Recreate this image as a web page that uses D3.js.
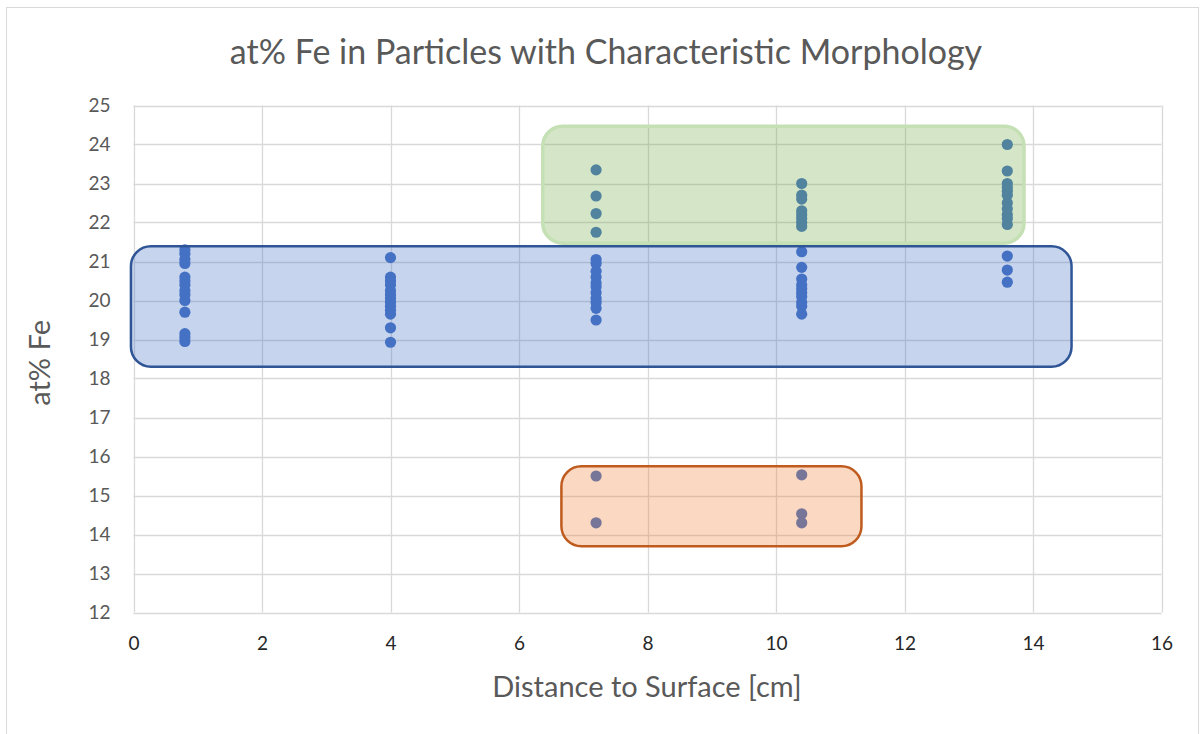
<!DOCTYPE html>
<html>
<head>
<meta charset="utf-8">
<script src="https://cdn.jsdelivr.net/npm/d3@7"></script>
<style>
  html, body { margin: 0; padding: 0; background: #fff; }
  svg { display: block; }
  text { font-family: Lato, "Open Sans", sans-serif; }
</style>
</head>
<body>
<svg id="chart" width="1203" height="734"></svg>
<script>
// Distance to surface (cm) for each sampled layer
const depths = [0.8, 4, 7.2, 10.4, 13.6];

// at% Fe measured in particles at each depth
const fe_0_8 = [21.3, 21.2, 21.05, 20.95, 20.6, 20.5, 20.4, 20.25, 20.15, 20.0, 19.7, 19.15, 19.05, 18.95];
const fe_4_0 = [21.1, 20.6, 20.5, 20.4, 20.25, 20.15, 20.05, 19.95, 19.85, 19.75, 19.65, 19.3, 18.93];
const fe_7_2 = [23.35, 22.68, 22.23, 21.75, 21.05, 20.95, 20.75, 20.6, 20.45, 20.35, 20.2, 20.05, 19.95, 19.8, 19.5, 15.5, 14.3];
const fe_10_4 = [23.0, 22.7, 22.6, 22.3, 22.2, 22.1, 22.0, 21.9, 21.25, 20.85, 20.55, 20.4, 20.3, 20.2, 20.1, 19.95, 19.85, 19.65, 15.53, 14.53, 14.3];
const fe_13_6 = [24.0, 23.32, 23.0, 22.9, 22.8, 22.7, 22.5, 22.35, 22.2, 22.1, 21.95, 21.14, 20.78, 20.47];

const feByDepth = [fe_0_8, fe_4_0, fe_7_2, fe_10_4, fe_13_6];

// Axis ticks
const xTicks = [0, 2, 4, 6, 8, 10, 12, 14, 16];
const yTicks = [12, 13, 14, 15, 16, 17, 18, 19, 20, 21, 22, 23, 24, 25];

// Morphology groups outlined on the chart, in data units
const groupNames = ["high", "main", "low"];
const groupX0 = [6.37, -0.04, 6.66];
const groupX1 = [13.86, 14.6, 11.33];
const groupY0 = [21.47, 18.3, 13.7];
const groupY1 = [24.47, 21.39, 15.75];

const svg = d3.select("#chart");
const plot = { left: 133.5, right: 1161.5, top: 105.5, bottom: 612.5 };

const x = d3.scaleLinear().domain([0, 16]).range([plot.left, plot.right]);
const y = d3.scaleLinear().domain([12, 25]).range([plot.bottom, plot.top]);

// chart frame
svg.append("rect")
  .attr("x", 6.5).attr("y", 7.5)
  .attr("width", 1192).attr("height", 740)
  .attr("fill", "#fff").attr("stroke", "#D9D9D9").attr("stroke-width", 1);

// title
svg.append("text")
  .attr("x", 606).attr("y", 64)
  .attr("text-anchor", "middle")
  .attr("font-size", 34)
  .attr("fill", "#595959")
  .text("at% Fe in Particles with Characteristic Morphology");

// gridlines
const grid = svg.append("g");
grid.selectAll("line.v").data(xTicks).join("line")
  .attr("class", "v")
  .attr("x1", d => Math.round(x(d)) + 0.5).attr("x2", d => Math.round(x(d)) + 0.5)
  .attr("y1", plot.top).attr("y2", plot.bottom)
  .attr("stroke", "#D9D9D9").attr("stroke-width", 1.3);
grid.selectAll("line.h").data(yTicks).join("line")
  .attr("class", "h")
  .attr("x1", plot.left).attr("x2", plot.right)
  .attr("y1", d => Math.round(y(d)) + 0.5).attr("y2", d => Math.round(y(d)) + 0.5)
  .attr("stroke", "#D9D9D9").attr("stroke-width", 1.3);

// axes (labels only, lines come from the grid)
const xAxis = svg.append("g")
  .attr("transform", `translate(0,${plot.bottom})`)
  .call(d3.axisBottom(x).tickValues(xTicks).tickSize(0).tickPadding(24).tickFormat(d3.format("d")));
xAxis.select(".domain").remove();
xAxis.selectAll("text").attr("font-size", 19).attr("fill", "#262626")
  .attr("font-family", "Lato, 'Open Sans', sans-serif");

const yAxis = svg.append("g")
  .attr("transform", `translate(${plot.left},0)`)
  .call(d3.axisLeft(y).tickValues(yTicks).tickSize(0).tickPadding(23).tickFormat(d3.format("d")));
yAxis.select(".domain").remove();
yAxis.selectAll("text").attr("font-size", 19).attr("fill", "#595959")
  .attr("font-family", "Lato, 'Open Sans', sans-serif");

// axis titles
svg.append("text")
  .attr("x", 647).attr("y", 697)
  .attr("text-anchor", "middle")
  .attr("font-size", 29).attr("fill", "#595959")
  .text("Distance to Surface [cm]");

svg.append("text")
  .attr("transform", `translate(50,${y(18.4)}) rotate(-90)`)
  .attr("text-anchor", "middle")
  .attr("font-size", 29).attr("fill", "#595959")
  .text("at% Fe");

// data points
const points = [];
depths.forEach((d, i) => feByDepth[i].forEach(v => points.push({ x: d, y: v })));

svg.append("g").selectAll("circle").data(points).join("circle")
  .attr("cx", d => x(d.x)).attr("cy", d => y(d.y))
  .attr("r", 5.6)
  .attr("fill", "#4472C4");

// translucent group outlines drawn over the points
const groupStyle = {
  high: { fill: "#70AD47", fillOpacity: 0.3, stroke: "#C5E0B4", strokeWidth: 3.5 },
  main: { fill: "#4472C4", fillOpacity: 0.3, stroke: "#2F5597", strokeWidth: 2.5 },
  low:  { fill: "#ED7D31", fillOpacity: 0.3, stroke: "#BF5B1E", strokeWidth: 2.5 }
};
const groups = groupNames.map((n, i) => ({ name: n, x0: groupX0[i], x1: groupX1[i], y0: groupY0[i], y1: groupY1[i] }));

svg.append("g").selectAll("rect").data(groups).join("rect")
  .attr("x", d => x(d.x0)).attr("y", d => y(d.y1))
  .attr("width", d => x(d.x1) - x(d.x0))
  .attr("height", d => y(d.y0) - y(d.y1))
  .attr("rx", 20).attr("ry", 20)
  .attr("fill", d => groupStyle[d.name].fill)
  .attr("fill-opacity", d => groupStyle[d.name].fillOpacity)
  .attr("stroke", d => groupStyle[d.name].stroke)
  .attr("stroke-width", d => groupStyle[d.name].strokeWidth);
</script>
</body>
</html>
